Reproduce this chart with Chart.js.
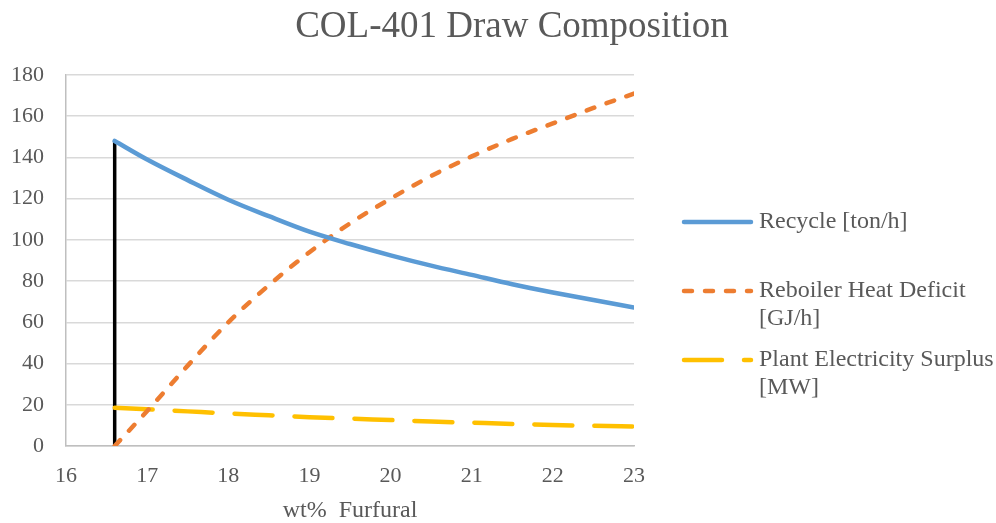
<!DOCTYPE html>
<html>
<head>
<meta charset="utf-8">
<script src="https://cdn.jsdelivr.net/npm/chart.js@4.4.1/dist/chart.umd.min.js"></script>
<style>
  html, body { margin: 0; padding: 0; background: #ffffff; }
  #wrap { width: 996px; height: 523px; }
</style>
</head>
<body>
<div id="wrap"><canvas id="c" width="996" height="523"></canvas></div>
<script>
// wt% furfural in the COL-401 draw
const furfural = [16.6, 17, 17.5, 18, 18.5, 19, 19.5, 20, 20.5, 21, 21.5, 22, 22.5, 23];
// Recycle flow [ton/h]
const recycle = [148, 139, 129, 119.5, 111.5, 104, 98, 92.5, 87.5, 83, 78.5, 74.5, 70.8, 67.2];
// Reboiler heat deficit [GJ/h]
const reboilerDeficit = [0, 17, 39, 60, 78, 94, 108, 120, 131, 140.5, 149, 156.5, 164, 171];
// Plant electricity surplus [MW]
const electricitySurplus = [18.5, 17.8, 16.8, 15.8, 14.9, 14, 13.3, 12.6, 11.9, 11.3, 10.7, 10.2, 9.8, 9.5];
// Minimum composition marker
const markerX = [16.6, 16.6];
const markerY = [0, 148];

const xTicks = [16, 17, 18, 19, 20, 21, 22, 23];
const yTicks = [0, 20, 40, 60, 80, 100, 120, 140, 160, 180];

const chartTitle = 'COL-401 Draw Composition';
const xAxisTitle = 'wt%  Furfural';
const seriesLabels = [
  ['Recycle [ton/h]'],
  ['Reboiler Heat Deficit', '[GJ/h]'],
  ['Plant Electricity Surplus', '[MW]']
];

const toPoints = (xs, ys) => xs.map((x, i) => ({ x: x, y: ys[i] }));

const FONT = "'Liberation Serif', 'Times New Roman', serif";
const TEXT = '#595959';

// Title centred on the whole canvas, and the legend beside the plot
const decorations = {
  id: 'decorations',
  afterDraw(chart) {
    const ctx = chart.ctx;
    ctx.save();
    ctx.fillStyle = TEXT;
    ctx.textBaseline = 'middle';
    ctx.textAlign = 'center';
    ctx.font = '37px ' + FONT;
    ctx.fillText(chartTitle, 512, 27);

    ctx.textAlign = 'left';
    ctx.font = '24px ' + FONT;
    const rows = [
      { ds: 0, y: 222 },
      { ds: 1, y: 291 },
      { ds: 2, y: 360 }
    ];
    rows.forEach(r => {
      const ds = chart.data.datasets[r.ds];
      ctx.beginPath();
      ctx.strokeStyle = ds.borderColor;
      ctx.lineWidth = ds.borderWidth;
      ctx.lineCap = 'round';
      ctx.setLineDash(ds.borderDash || []);
      ctx.moveTo(684, r.y);
      ctx.lineTo(751, r.y);
      ctx.stroke();
      ctx.setLineDash([]);
      seriesLabels[r.ds].forEach((line, i) => {
        ctx.fillText(line, 759, r.y + i * 28);
      });
    });
    ctx.restore();
  }
};

new Chart(document.getElementById('c'), {
  type: 'line',
  data: {
    datasets: [
      {
        label: seriesLabels[0].join(' '),
        data: toPoints(furfural, recycle),
        borderColor: '#5B9BD5',
        borderWidth: 4.5,
        borderCapStyle: 'round',
        pointRadius: 0,
        cubicInterpolationMode: 'monotone'
      },
      {
        label: seriesLabels[1].join(' '),
        data: toPoints(furfural, reboilerDeficit),
        borderColor: '#ED7D31',
        borderWidth: 4.5,
        borderDash: [8, 13],
        borderCapStyle: 'round',
        pointRadius: 0,
        cubicInterpolationMode: 'monotone'
      },
      {
        label: seriesLabels[2].join(' '),
        data: toPoints(furfural, electricitySurplus),
        borderColor: '#FFC000',
        borderWidth: 4.5,
        borderDash: [38, 22],
        borderCapStyle: 'round',
        pointRadius: 0,
        cubicInterpolationMode: 'monotone'
      },
      {
        label: 'marker',
        data: toPoints(markerX, markerY),
        borderColor: '#000000',
        borderWidth: 3.5,
        borderCapStyle: 'round',
        pointRadius: 0
      }
    ]
  },
  options: {
    responsive: false,
    animation: false,
    layout: { padding: { left: 0, right: 362, top: 75, bottom: 0 } },
    plugins: {
      legend: { display: false },
      tooltip: { enabled: false },
      title: { display: false }
    },
    scales: {
      x: {
        type: 'linear',
        min: 16,
        max: 23,
        afterBuildTicks: s => { s.ticks = xTicks.map(v => ({ value: v })); },
        afterFit: s => { s.height = 77; },
        ticks: { color: TEXT, font: { family: FONT, size: 22 }, padding: 17 },
        grid: { display: false, drawTicks: false },
        border: { display: true, color: '#BFBFBF', width: 1.5 },
        title: {
          display: true,
          text: xAxisTitle,
          color: TEXT,
          font: { family: FONT, size: 24, lineHeight: 1 },
          padding: { top: 15, bottom: 0 }
        }
      },
      y: {
        min: 0,
        max: 180,
        afterBuildTicks: s => { s.ticks = yTicks.map(v => ({ value: v })); },
        afterFit: s => { s.width = 66; },
        ticks: { color: TEXT, font: { family: FONT, size: 22 }, padding: 22 },
        grid: { color: '#D9D9D9', lineWidth: 1.5, drawTicks: false },
        border: { display: true, color: '#BFBFBF', width: 1.5 }
      }
    }
  },
  plugins: [decorations]
});
</script>
</body>
</html>
